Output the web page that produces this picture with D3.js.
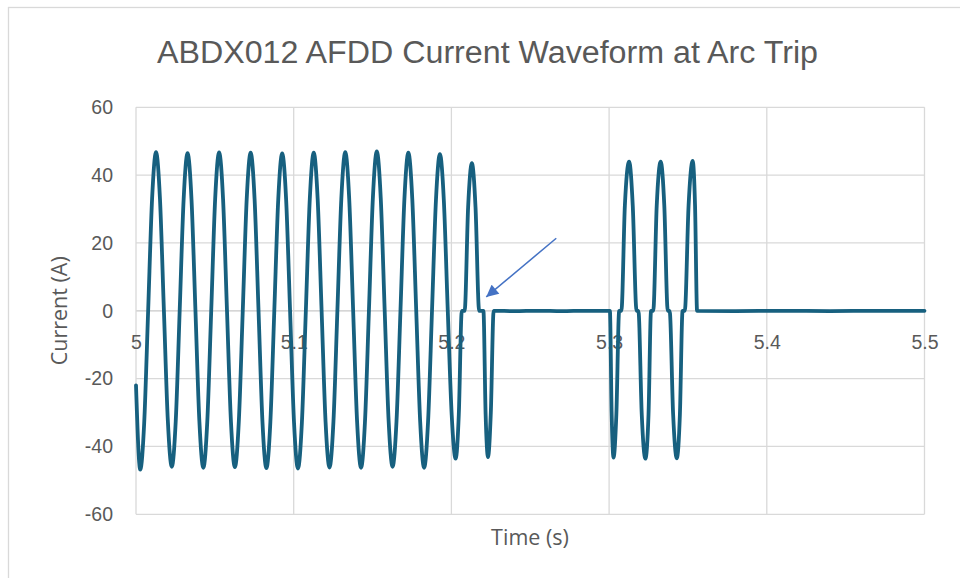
<!DOCTYPE html>
<html>
<head>
<meta charset="utf-8">
<script src="https://cdn.jsdelivr.net/npm/d3@7"></script>
<style>
  html, body { margin: 0; padding: 0; background: #ffffff; }
  svg { display: block; }
</style>
</head>
<body>
<svg id="chart" width="960" height="578"></svg>
<script>
// ---- data ----
const chartTitle = "ABDX012 AFDD Current Waveform at Arc Trip";
const xAxisTitle = "Time (s)";
const yAxisTitle = "Current (A)";

const xTickValues = [5, 5.1, 5.2, 5.3, 5.4, 5.5];
const xTickLabels = ["5", "5.1", "5.2", "5.3", "5.4", "5.5"];
const yTickValues = [-60, -40, -20, 0, 20, 40, 60];
const yTickLabels = ["-60", "-40", "-20", "0", "20", "40", "60"];

// waveform points: time (s)
const timeS = [
  5.0000, 5.0027, 5.0052, 5.0077, 5.0102, 5.0127, 5.0152, 5.0177,
  5.0202, 5.0227, 5.0252, 5.0277, 5.0302, 5.0327, 5.0352, 5.0377,
  5.0402, 5.0427, 5.0452, 5.0477, 5.0502, 5.0527, 5.0552, 5.0577,
  5.0602, 5.0627, 5.0652, 5.0677, 5.0702, 5.0727, 5.0752, 5.0777,
  5.0802, 5.0827, 5.0852, 5.0877, 5.0902, 5.0927, 5.0952, 5.0977,
  5.1002, 5.1027, 5.1052, 5.1077, 5.1102, 5.1127, 5.1152, 5.1177,
  5.1202, 5.1227, 5.1252, 5.1277, 5.1302, 5.1327, 5.1352, 5.1377,
  5.1402, 5.1427, 5.1452, 5.1477, 5.1502, 5.1527, 5.1552, 5.1577,
  5.1602, 5.1627, 5.1652, 5.1677, 5.1702, 5.1727, 5.1752, 5.1777,
  5.1802, 5.1827, 5.1852, 5.1877, 5.1902, 5.1927, 5.1952, 5.1977,
  5.2002, 5.2027, 5.2047, 5.2066, 5.2084, 5.2106, 5.2130, 5.2153, 5.2176,
  5.2203, 5.2217, 5.2232, 5.2250, 5.2268,
  5.2400, 5.2550, 5.2700, 5.2850, 5.3005,
  5.3016, 5.3028, 5.3046, 5.3064, 5.3078, 5.3100, 5.3127, 5.3150, 5.3174,
  5.3186, 5.3207, 5.3230, 5.3250, 5.3266, 5.3280, 5.3302, 5.3327, 5.3350, 5.3372,
  5.3384, 5.3406, 5.3429, 5.3449, 5.3466, 5.3480, 5.3504, 5.3530, 5.3545, 5.3558,
  5.3800, 5.4100, 5.4400, 5.4700, 5.5000
];
// current (A) at those times
const currentA = [
  -22.0, -46.8, -33.0, 0, 33.0, 46.8, 33.0, 0,
  -32.5, -46.0, -32.5, 0, 32.8, 46.5, 32.8, 0,
  -32.7, -46.3, -32.7, 0, 33.0, 46.7, 33.0, 0,
  -32.6, -46.1, -32.6, 0, 32.9, 46.6, 32.9, 0,
  -32.8, -46.4, -32.8, 0, 32.8, 46.4, 32.8, 0,
  -32.9, -46.5, -32.9, 0, 32.9, 46.6, 32.9, 0,
  -32.7, -46.2, -32.7, 0, 33.0, 46.8, 33.0, 0,
  -32.7, -46.3, -32.7, 0, 33.2, 47.0, 33.2, 0,
  -32.5, -46.0, -32.5, 0, 32.9, 46.6, 32.9, 0,
  -32.7, -46.3, -32.7, 0, 32.6, 46.2, 32.6, 0,
  -30.8, -43.6, -30.5, 0, 0, 30.5, 43.5, 30.5, 0,
  0, -30.5, -43.1, -30.0, 0,
  -0.1, 0.0, -0.1, 0.0, 0,
  -30.0, -43.3, -30.5, 0, 0, 31.0, 44.0, 31.0, 0,
  0, -30.5, -43.6, -30.5, 0, 0, 31.0, 44.0, 31.0, 0,
  0, -30.5, -43.5, -30.5, 0, 0, 31.0, 44.2, 31.0, 0,
  -0.1, 0.0, -0.1, 0.0, 0.0
];

// annotation arrow (data coords): tail -> tip
const arrowTime = [5.2665, 5.2221];
const arrowCurrent = [21.4, 4.1];

// ---- drawing ----
const svg = d3.select("#chart");
const W = 960, H = 578;
const plot = { left: 136, right: 924.5, top: 107.3, bottom: 514.3 };

const x = d3.scaleLinear().domain([5, 5.5]).range([plot.left, plot.right]);
const y = d3.scaleLinear().domain([-60, 60]).range([plot.bottom, plot.top]);

// chart border
svg.append("rect")
  .attr("x", 8.5).attr("y", 7.5)
  .attr("width", W).attr("height", H)
  .attr("fill", "#ffffff")
  .attr("stroke", "#d9d9d9").attr("stroke-width", 1.3);

// title
svg.append("text")
  .attr("x", 487.5).attr("y", 63)
  .attr("text-anchor", "middle")
  .attr("font-family", "'Liberation Sans Narrow', 'Liberation Sans', Arial, sans-serif")
  .attr("font-size", 31)
  .attr("fill", "#595959")
  .attr("textLength", 661)
  .attr("lengthAdjust", "spacingAndGlyphs")
  .text(chartTitle);

// horizontal gridlines
svg.append("g")
  .selectAll("line")
  .data(yTickValues)
  .join("line")
  .attr("x1", plot.left).attr("x2", plot.right)
  .attr("y1", d => y(d)).attr("y2", d => y(d))
  .attr("stroke", d => d === 0 ? "#c8c8c8" : "#d9d9d9")
  .attr("stroke-width", 1.3);

// vertical gridlines
svg.append("g")
  .selectAll("line")
  .data(xTickValues)
  .join("line")
  .attr("x1", d => x(d)).attr("x2", d => x(d))
  .attr("y1", plot.top).attr("y2", plot.bottom)
  .attr("stroke", "#d9d9d9")
  .attr("stroke-width", 1.3);

// y tick labels
const yAxis = d3.axisLeft(y).tickValues(yTickValues)
  .tickFormat((d, i) => yTickLabels[i]).tickSize(0).tickPadding(0);
const gy = svg.append("g").attr("transform", `translate(${plot.left - 23},0)`).call(yAxis);
gy.select(".domain").remove();
gy.selectAll("text")
  .attr("font-family", "'Liberation Sans', Arial, sans-serif")
  .attr("font-size", 19.5)
  .attr("fill", "#595959");

// x tick labels (sit just under the zero line)
const xAxis = d3.axisBottom(x).tickValues(xTickValues)
  .tickFormat((d, i) => xTickLabels[i]).tickSize(0).tickPadding(0);
const gx = svg.append("g").attr("transform", `translate(0,${y(0) + 38})`).call(xAxis);
gx.select(".domain").remove();
gx.selectAll("text")
  .attr("dy", "0")
  .attr("font-family", "'Liberation Sans', Arial, sans-serif")
  .attr("font-size", 19.5)
  .attr("fill", "#595959");

// axis titles
svg.append("text")
  .attr("x", 530).attr("y", 545)
  .attr("text-anchor", "middle")
  .attr("font-family", "'Open Sans', 'Liberation Sans', sans-serif")
  .attr("font-size", 21.5)
  .attr("fill", "#595959")
  .text(xAxisTitle);

svg.append("text")
  .attr("transform", `translate(67,${(plot.top + plot.bottom) / 2}) rotate(-90)`)
  .attr("text-anchor", "middle")
  .attr("font-family", "'Open Sans', 'Liberation Sans', sans-serif")
  .attr("font-size", 21.5)
  .attr("fill", "#595959")
  .text(yAxisTitle);

// waveform
const pts = timeS.map((t, i) => [t, currentA[i]]);
const line = d3.line()
  .x(d => x(d[0])).y(d => y(d[1]))
  .curve(d3.curveMonotoneX);

svg.append("path")
  .datum(pts)
  .attr("d", line)
  .attr("fill", "none")
  .attr("stroke", "#17607f")
  .attr("stroke-width", 3.8)
  .attr("stroke-linejoin", "round")
  .attr("stroke-linecap", "round");

// arrow annotation
const defs = svg.append("defs");
defs.append("marker")
  .attr("id", "arrowhead")
  .attr("viewBox", "0 0 10 10")
  .attr("refX", 10).attr("refY", 5)
  .attr("markerWidth", 9).attr("markerHeight", 8)
  .attr("markerUnits", "strokeWidth")
  .attr("orient", "auto")
  .append("path")
  .attr("d", "M0,0 L10,5 L0,10 Z")
  .attr("fill", "#4472c4");

svg.append("line")
  .attr("x1", x(arrowTime[0])).attr("y1", y(arrowCurrent[0]))
  .attr("x2", x(arrowTime[1])).attr("y2", y(arrowCurrent[1]))
  .attr("stroke", "#4472c4")
  .attr("stroke-width", 1.5)
  .attr("marker-end", "url(#arrowhead)");
</script>
</body>
</html>
